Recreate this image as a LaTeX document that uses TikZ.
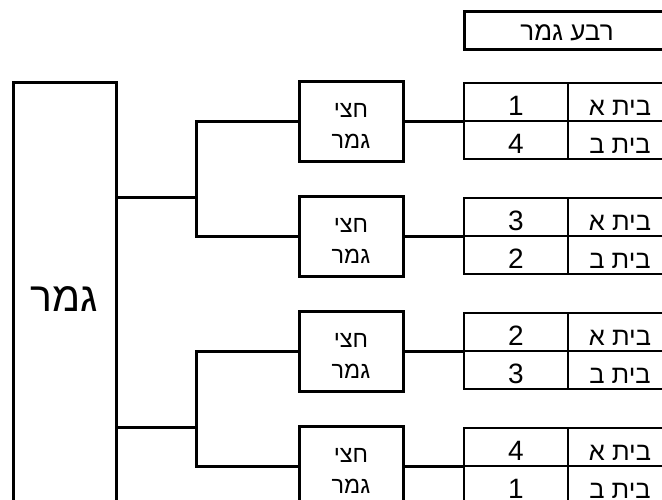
\documentclass[tikz,border=0pt]{standalone}
\usepackage{fontspec}
\TeXXeTstate=1
\newfontfamily\hebfont[Script=Hebrew]{Liberation Sans}
\newcommand{\hebtxt}[1]{\beginR #1\endR}
\begin{document}
\begin{tikzpicture}[x=1pt,y=-1pt,
  link/.style={line width=3pt},
  bigbox/.style={draw, line width=3pt, minimum width=103pt, minimum height=434pt, inner sep=0pt,
    font=\fontsize{41}{46}\selectfont\hebfont},
  semibox/.style={draw, line width=3pt, minimum width=104pt, minimum height=80pt, inner sep=0pt},
  semitext/.style={anchor=base, inner sep=0pt, font=\fontsize{23.5}{28}\selectfont\hebfont},
  cell/.style={draw, line width=2pt, minimum width=104pt, minimum height=38pt, inner sep=0pt,
    text height=26pt, text depth=0pt, font=\fontsize{28}{32}\selectfont\hebfont},
  namecell/.style={cell, font=\fontsize{25.5}{30}\selectfont\hebfont},
  titlebox/.style={draw, line width=3pt, minimum width=206pt, minimum height=38pt, inner sep=0pt,
    text height=20pt, text depth=0pt, font=\fontsize{26}{30}\selectfont\hebfont}]
\path[use as bounding box, fill=white] (0,0) rectangle (662,499);
\clip (0,0) rectangle (662,499);

% title
\node[titlebox] (title) at (567,30) {\hebtxt{רבע גמר}};

% final
\node[bigbox] (big) at (64.5,299) {\hebtxt{גמר}};

% semifinals
\foreach \i/\c in {1/121, 2/236, 3/351, 4/466}{
  \node[semibox] (s\i) at (351,\c) {};
  \node[semitext] (s\i a) at (351,\c-4) {\hebtxt{חצי}};
  \node[semitext] (s\i b) at (351,\c+27) {\hebtxt{גמר}};
}

% tables
\foreach \i/\c/\na/\nb in {1/121/1/4, 2/236/3/2, 3/351/2/3, 4/466/4/1}{
  \node[cell] (t\i a)  at (516,\c-19) {\na};
  \node[namecell] (t\i an) at (620,\c-19) {\hebtxt{בית א}};
  \node[cell] (t\i b)  at (516,\c+19) {\nb};
  \node[namecell] (t\i bn) at (620,\c+19) {\hebtxt{בית ב}};
}

% connectors semifinal -> tables
\foreach \i in {1,2,3,4}{
  \draw[link] (s\i.east) -- (s\i.east -| t\i a.west);
}

% brackets
\coordinate (j1) at (196,197);
\coordinate (j2) at (196,427);
\draw[link] (s1.west) -| (j1) |- (s2.west);
\draw[link] (s3.west) -| (j2) |- (s4.west);
\draw[link] (big.east |- j1) -- (j1);
\draw[link] (big.east |- j2) -- (j2);
\end{tikzpicture}
\end{document}
